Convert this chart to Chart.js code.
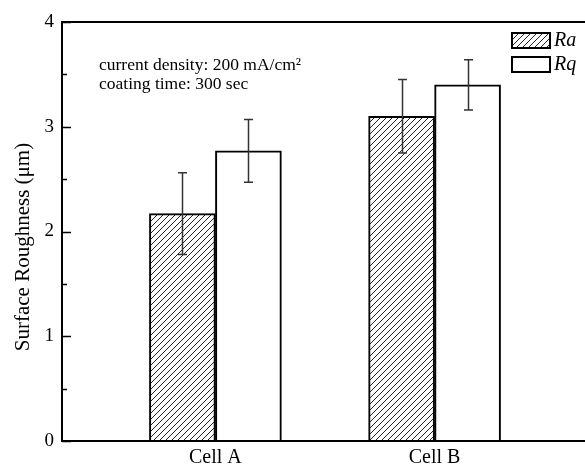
<!DOCTYPE html>
<html><head><meta charset="utf-8">
<script src="https://cdn.jsdelivr.net/npm/chart.js@4"></script>
<style>
html,body{margin:0;padding:0;background:#fff;overflow:hidden;width:585px;height:468px}
#wrap{position:absolute;left:0;top:0;width:588px;height:468px}
</style></head><body>
<div id="wrap"><canvas id="c" width="588" height="468"></canvas></div>
<script>
// ---- data ----
const categories = ['Cell A', 'Cell B'];
const categoryPositions = [1, 2];
const seriesNames = ['Ra', 'Rq'];
const raValues = [2.17, 3.10];
const rqValues = [2.77, 3.40];
const raErrors = [0.39, 0.35];
const rqErrors = [0.30, 0.24];
const yTicks = [0, 1, 2, 3, 4];
const yMinorTicks = [0.5, 1.5, 2.5, 3.5];
const annotationLines = ['current density: 200 mA/cm\u00B2', 'coating time: 300 sec'];
const yTitle = 'Surface Roughness (\u03BCm)';

const SERIF = "'Liberation Serif', 'Times New Roman', serif";

function makeHatch() {
  const s = 6;
  const c = document.createElement('canvas');
  c.width = s; c.height = s;
  const g = c.getContext('2d');
  g.fillStyle = '#fff'; g.fillRect(0, 0, s, s);
  g.strokeStyle = '#222'; g.lineWidth = 1;
  g.beginPath();
  g.moveTo(-1, 1); g.lineTo(1, -1);
  g.moveTo(0, s); g.lineTo(s, 0);
  g.moveTo(s - 1, s + 1); g.lineTo(s + 1, s - 1);
  g.stroke();
  return g.createPattern(c, 'repeat');
}
const hatch = makeHatch();

const errorsBySeries = [raErrors, rqErrors];

const decorPlugin = {
  id: 'decor',
  afterDatasetsDraw(chart) {
    const ctx = chart.ctx;
    const {left, right, top, bottom} = chart.chartArea;
    const y = chart.scales.y;
    ctx.save();
    // error bars
    ctx.strokeStyle = '#333';
    ctx.lineWidth = 1.5;
    chart.data.datasets.forEach((ds, di) => {
      const meta = chart.getDatasetMeta(di);
      meta.data.forEach((el, i) => {
        const v = ds.data[i].y, e = errorsBySeries[di][i];
        const yt = y.getPixelForValue(v + e), yb = y.getPixelForValue(v - e);
        const x = Math.round(el.x) + 0.5;
        ctx.beginPath();
        ctx.moveTo(x, yt); ctx.lineTo(x, yb);
        ctx.moveTo(x - 4.5, yt); ctx.lineTo(x + 4.5, yt);
        ctx.moveTo(x - 4.5, yb); ctx.lineTo(x + 4.5, yb);
        ctx.stroke();
      });
    });
    // frame lines
    ctx.strokeStyle = '#000';
    ctx.lineWidth = 2;
    ctx.beginPath();
    ctx.moveTo(left, top); ctx.lineTo(right + 5, top);
    ctx.moveTo(left, bottom); ctx.lineTo(right + 5, bottom);
    ctx.moveTo(left, top - 1); ctx.lineTo(left, bottom + 1);
    ctx.stroke();
    // inward y ticks
    ctx.lineWidth = 1.5;
    ctx.beginPath();
    yTicks.forEach(t => { const p = Math.round(y.getPixelForValue(t)) + 0.5; ctx.moveTo(left, p); ctx.lineTo(left + 9, p); });
    yMinorTicks.forEach(t => { const p = Math.round(y.getPixelForValue(t)) + 0.5; ctx.moveTo(left, p); ctx.lineTo(left + 5, p); });
    ctx.stroke();
    // y axis title
    ctx.fillStyle = '#000';
    ctx.save();
    ctx.translate(23, 247);
    ctx.rotate(-Math.PI / 2);
    ctx.font = '21px ' + SERIF;
    ctx.textAlign = 'center';
    ctx.textBaseline = 'middle';
    ctx.fillText(yTitle, 0, 0);
    ctx.restore();
    // annotation
    ctx.font = '17.5px ' + SERIF;
    ctx.textBaseline = 'middle';
    ctx.textAlign = 'left';
    annotationLines.forEach((t, i) => ctx.fillText(t, 99, 65 + i * 19));
    // legend
    const fills = [hatch, '#fff'];
    seriesNames.forEach((n, i) => {
      const by = 33 + i * 24;
      ctx.fillStyle = fills[i];
      ctx.fillRect(512, by, 38, 15);
      ctx.strokeStyle = '#000';
      ctx.lineWidth = 2;
      ctx.strokeRect(512, by, 38, 15);
      ctx.fillStyle = '#000';
      ctx.font = 'italic 20px ' + SERIF;
      ctx.textBaseline = 'middle';
      ctx.fillText(n, 554, by + 8);
    });
    ctx.restore();
  }
};

new Chart(document.getElementById('c'), {
  type: 'bar',
  data: {
    datasets: [
      {
        label: seriesNames[0],
        data: categoryPositions.map((x, i) => ({x, y: raValues[i]})),
        backgroundColor: hatch,
        borderColor: '#000',
        borderWidth: 2,
        barThickness: 66,
        borderSkipped: 'start'
      },
      {
        label: seriesNames[1],
        data: categoryPositions.map((x, i) => ({x, y: rqValues[i]})),
        backgroundColor: '#fff',
        borderColor: '#000',
        borderWidth: 2,
        barThickness: 66,
        borderSkipped: 'start'
      }
    ]
  },
  options: {
    responsive: false,
    animation: false,
    layout: {padding: {top: 22, right: 0, left: 0, bottom: 0}},
    plugins: {legend: {display: false}, tooltip: {enabled: false}},
    scales: {
      x: {
        type: 'linear', min: 0.3, max: 2.7, offset: false,
        grid: {display: false, drawTicks: false},
        border: {display: false},
        afterBuildTicks: s => { s.ticks = categoryPositions.map(v => ({value: v})); },
        ticks: {
          callback: v => { const i = categoryPositions.indexOf(v); return i >= 0 ? categories[i] : ''; },
          font: {family: SERIF, size: 20}, color: '#000', padding: 5,
          maxRotation: 0, autoSkip: false
        },
        afterFit: s => { s.height = 27; }
      },
      y: {
        min: 0, max: 4,
        grid: {display: false, drawTicks: false},
        border: {display: false},
        afterBuildTicks: s => { s.ticks = yTicks.map(v => ({value: v})); },
        ticks: {font: {family: SERIF, size: 19}, color: '#000', padding: 8},
        title: {display: false},
        afterFit: s => { s.width = 62; }
      }
    }
  },
  plugins: [decorPlugin]
});
</script>
</body></html>
